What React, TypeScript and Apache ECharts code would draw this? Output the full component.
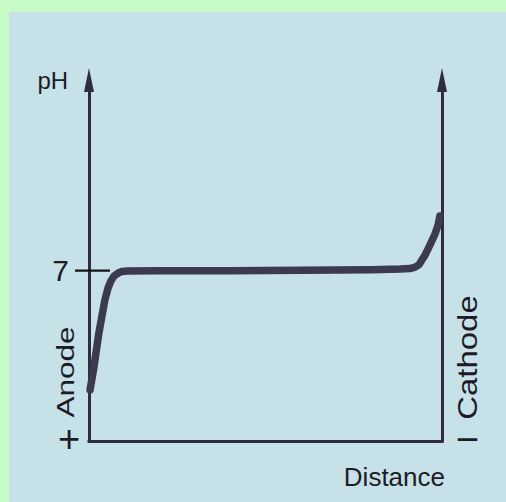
import React, { useEffect, useRef } from "react";
import * as echarts from "echarts";

// Distance (0 = anode, 100 = cathode) and pH values
const distance = [0.3, 1.4, 2.8, 4.5, 5.4, 6.2, 7.1, 8.2, 9.3, 11.0, 20, 40, 60, 80, 88.1, 90.9, 92.4, 93.5, 94.3, 95.2, 96.6, 98.0, 98.9, 99.4];
const phValues = [2.1, 3.04, 4.44, 5.8, 6.29, 6.58, 6.78, 6.9, 6.97, 6.99, 7.0, 7.0, 7.02, 7.04, 7.07, 7.09, 7.15, 7.25, 7.44, 7.64, 8.06, 8.5, 8.88, 9.25];
const yTickLabels = ["7"];
const yMax = 14.84;

const FONT = "'Liberation Sans', Arial, Helvetica, sans-serif";
const INK = "#1d1c26";
const AXIS = "#2f2d3b";
const CURVE = "#3c3a4e";

export default function App() {
  const ref = useRef<HTMLDivElement>(null);
  useEffect(() => {
    if (!ref.current) return;
    const chart = echarts.init(ref.current, null, { renderer: "svg" });
    const axisLineStyle = { color: AXIS, width: 3 };
    const txt = (size: number) => ({ fontSize: size, fontFamily: FONT, fill: INK });
    chart.setOption({
      animation: false,
      backgroundColor: "#c6fbc6",
      grid: { left: 89, right: 64, top: 80, bottom: 61, containLabel: false, outerBoundsMode: "none" },
      xAxis: {
        type: "value",
        min: 0,
        max: 100,
        axisLine: { show: true, onZero: false, lineStyle: { ...axisLineStyle, cap: "square" } },
        axisTick: { show: false },
        axisLabel: { show: false },
        splitLine: { show: false },
      },
      yAxis: [
        {
          type: "value",
          min: 0,
          max: yMax,
          interval: 7,
          position: "left",
          axisLine: { show: true, onZero: false, symbol: ["none", "triangle"], symbolSize: [10, 24], lineStyle: axisLineStyle },
          axisTick: { show: false },
          axisLabel: {
            show: true,
            margin: 20,
            fontSize: 30,
            fontFamily: FONT,
            color: INK,
            formatter: (v: number) => (yTickLabels.includes(String(v)) ? String(v) : ""),
          },
          splitLine: { show: false },
        },
        {
          type: "value",
          min: 0,
          max: yMax,
          interval: 7,
          position: "right",
          axisLine: { show: true, onZero: false, symbol: ["none", "triangle"], symbolSize: [10, 24], lineStyle: axisLineStyle },
          axisTick: { show: false },
          axisLabel: { show: false },
          splitLine: { show: false },
        },
      ],
      series: [
        {
          type: "line",
          xAxisIndex: 0,
          yAxisIndex: 0,
          data: distance.map((d, i) => [d, phValues[i]]),
          showSymbol: false,
          symbol: "none",
          smooth: false,
          clip: false,
          z: 3,
          lineStyle: { color: CURVE, width: 7.5, cap: "round", join: "round" },
        },
      ],
      graphic: {
        elements: [
          { id: "panel", type: "rect", z: -10, silent: true, shape: { x: 9, y: 12, width: 497, height: 490 }, style: { fill: "#c7e1e9" } },
          { id: "ph", type: "text", x: 37.5, y: 80.5, style: { text: "pH", ...txt(24), align: "left", verticalAlign: "middle" } },
          { id: "dist", type: "text", x: 445, y: 476.5, style: { text: "Distance", ...txt(26), align: "right", verticalAlign: "middle" } },
          { id: "plus", type: "text", x: 69, y: 439, style: { text: "+", ...txt(38), align: "center", verticalAlign: "middle" } },
          { id: "anode", type: "text", x: 66, y: 372, rotation: Math.PI / 2, scaleX: 1.37, style: { text: "Anode", ...txt(23), align: "center", verticalAlign: "middle" } },
          { id: "minus", type: "text", x: 467.5, y: 439, style: { text: "−", ...txt(40), align: "center", verticalAlign: "middle" } },
          { id: "cathode", type: "text", x: 467.5, y: 357.5, rotation: Math.PI / 2, scaleX: 1.22, style: { text: "Cathode", ...txt(27), align: "center", verticalAlign: "middle" } },
        ],
      },
    });
    const p = chart.convertToPixel({ xAxisIndex: 0, yAxisIndex: 0 }, [0, 7]) as number[];
    chart.setOption({
      graphic: {
        elements: [
          { id: "tick7", type: "line", z: 5, silent: true, shape: { x1: p[0] - 14, y1: p[1], x2: p[0] + 21, y2: p[1] }, style: { stroke: "#15141c", lineWidth: 2.2 } },
        ],
      },
    });
    return () => chart.dispose();
  }, []);
  return <div ref={ref} style={{ position: "absolute", left: 0, top: 0, width: 506, height: 502 }} />;
}
